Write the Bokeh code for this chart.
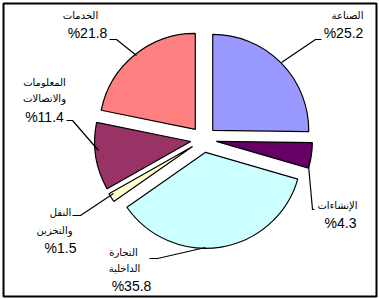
import math
from bokeh.plotting import figure
from bokeh.models import Range1d, ColumnDataSource
from bokeh.core.properties import value
from bokeh.embed import file_html
from bokeh.resources import INLINE

# ---- data ----
sectors = ["الصناعة", "الإنشاءات", "التجارة الداخلية", "النقل والتخزين",
           "المعلومات والاتصالات", "الخدمات"]
shares = [25.2, 4.3, 35.8, 1.5, 11.4, 21.8]
colors = ["#9999FF", "#660066", "#CCFFFF", "#FFFFCC", "#993366", "#FF8080"]
name_lines = [["الصناعة"], ["الإنشاءات"], ["التجارة", "الداخلية"],
              ["النقل", "والتخزين"], ["المعلومات", "والاتصالات"], ["الخدمات"]]
pct_labels = ["%" + f"{v:.1f}" for v in shares]

# ---- layout (pixel coordinates, y downwards) ----
W, H = 379, 299
CX, CY = 203, 139
R = 96
EXPLODE = 13

# label positions: list of (x, y) for each name line, then pct position
name_pos = [[(347, 15)], [(337, 205)], [(123, 252), (124, 268)],
            [(60, 212), (54, 230)], [(44, 82), (44, 98)], [(80, 15)]]
pct_pos = [(343, 32), (340, 222), (131, 285), (60, 247), (44, 116), (87, 32)]
leaders = [
    [(281, 62), (315, 39), (321, 39)],
    [(308, 165), (312, 209), (314, 209)],
    [(205, 247), (157, 258), (149, 258)],
    [(113, 193), (80, 215), (72, 215)],
    [(98, 150), (72, 120), (66, 120)],
    [(136, 55), (116, 39), (109, 39)],
]

def fy(y):
    return H - y

total = sum(shares)
xs, ys, starts, ends = [], [], [], []
cum = 0.0
for v in shares:
    t1 = cum / total * 360.0
    cum += v
    t2 = cum / total * 360.0
    tm = math.radians((t1 + t2) / 2)
    xs.append(CX + EXPLODE * math.sin(tm))
    ys.append(fy(CY) + EXPLODE * math.cos(tm))
    starts.append(math.radians(90 - t1))
    ends.append(math.radians(90 - t2))

src = ColumnDataSource(dict(x=xs, y=ys, start=starts, end=ends, color=colors,
                            sector=sectors, share=shares))

p = figure(width=W, height=H, x_range=Range1d(3, W - 3), y_range=Range1d(3, H - 3),
           output_backend="svg", toolbar_location=None,
           x_axis_type=None, y_axis_type=None,
           min_border_left=3, min_border_right=3, min_border_top=3, min_border_bottom=3)
p.grid.visible = False
p.outline_line_color = "black"
p.outline_line_width = 2
p.background_fill_color = "white"
p.border_fill_color = "white"

p.wedge(x="x", y="y", radius=R, start_angle="start", end_angle="end",
        direction="clock", fill_color="color", line_color="black", line_width=1.2,
        source=src)

p.multi_line(xs=[[pt[0] for pt in l] for l in leaders],
             ys=[[fy(pt[1]) for pt in l] for l in leaders],
             line_color="black", line_width=1.2)

nx, ny, nt = [], [], []
for lines, poss in zip(name_lines, name_pos):
    for t, (x, y) in zip(lines, poss):
        nx.append(x); ny.append(fy(y)); nt.append(t)
p.text(x=nx, y=ny, text=nt, text_font=value("DejaVu Sans"), text_font_size="10px",
       text_align="center", text_baseline="middle", text_color="black")

p.text(x=[q[0] for q in pct_pos], y=[fy(q[1]) for q in pct_pos], text=pct_labels,
       text_font=value("Liberation Sans"), text_font_size="14px",
       text_align="center", text_baseline="middle", text_color="black")

open("out.html", "w").write(file_html(p, INLINE))
